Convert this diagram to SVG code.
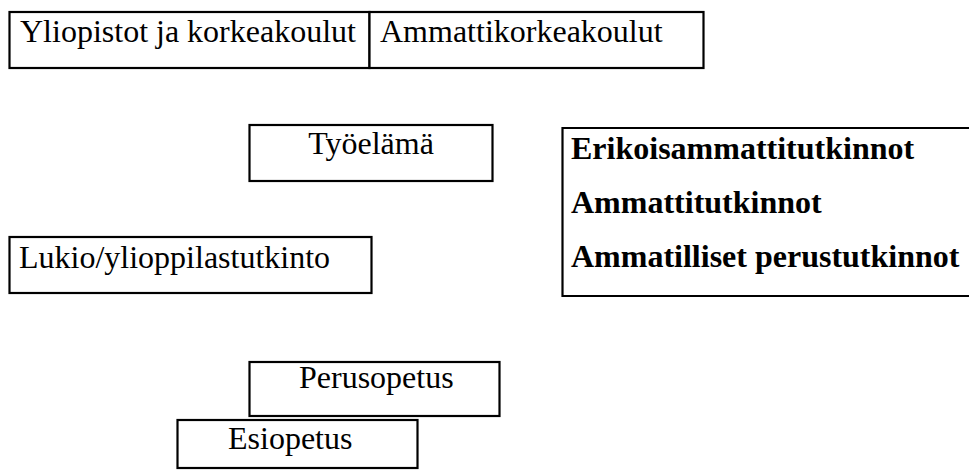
<svg xmlns="http://www.w3.org/2000/svg" width="969" height="470" viewBox="0 0 969 470">
<style>
.box{fill:#fff;stroke:#000;stroke-width:2.2}
.t{font-family:"Liberation Serif","Times New Roman",serif;font-size:32px;fill:#000}
.b{font-weight:bold}
</style>
<rect width="969" height="470" fill="#fff"/>
<g id="connectors"/>
<g id="yliopistot">
<rect class="box" x="9.5" y="12" width="360" height="56"/>
<text class="t" x="20" y="42">Yliopistot ja korkeakoulut</text>
</g>
<g id="ammattikorkeakoulut">
<rect class="box" x="369.5" y="12" width="334" height="56"/>
<text class="t" x="380" y="42">Ammattikorkeakoulut</text>
</g>
<g id="tyoelama">
<rect class="box" x="249.5" y="125" width="243" height="56"/>
<text class="t" x="371" y="154" text-anchor="middle">Työelämä</text>
</g>
<g id="ammatilliset">
<path class="box" fill="none" d="M975,128 H562.5 V296 H975"/>
<text class="t b" x="571" y="159">Erikoisammattitutkinnot</text>
<text class="t b" x="571" y="213">Ammattitutkinnot</text>
<text class="t b" x="571" y="267">Ammatilliset perustutkinnot</text>
</g>
<g id="lukio">
<rect class="box" x="9.5" y="237" width="362" height="56"/>
<text class="t" x="19" y="268">Lukio/ylioppilastutkinto</text>
</g>
<g id="perusopetus">
<rect class="box" x="249.5" y="362" width="250" height="54"/>
<text class="t" x="299" y="388">Perusopetus</text>
</g>
<g id="esiopetus">
<rect class="box" x="177.5" y="420" width="240" height="48"/>
<text class="t" x="228" y="449">Esiopetus</text>
</g>
</svg>
